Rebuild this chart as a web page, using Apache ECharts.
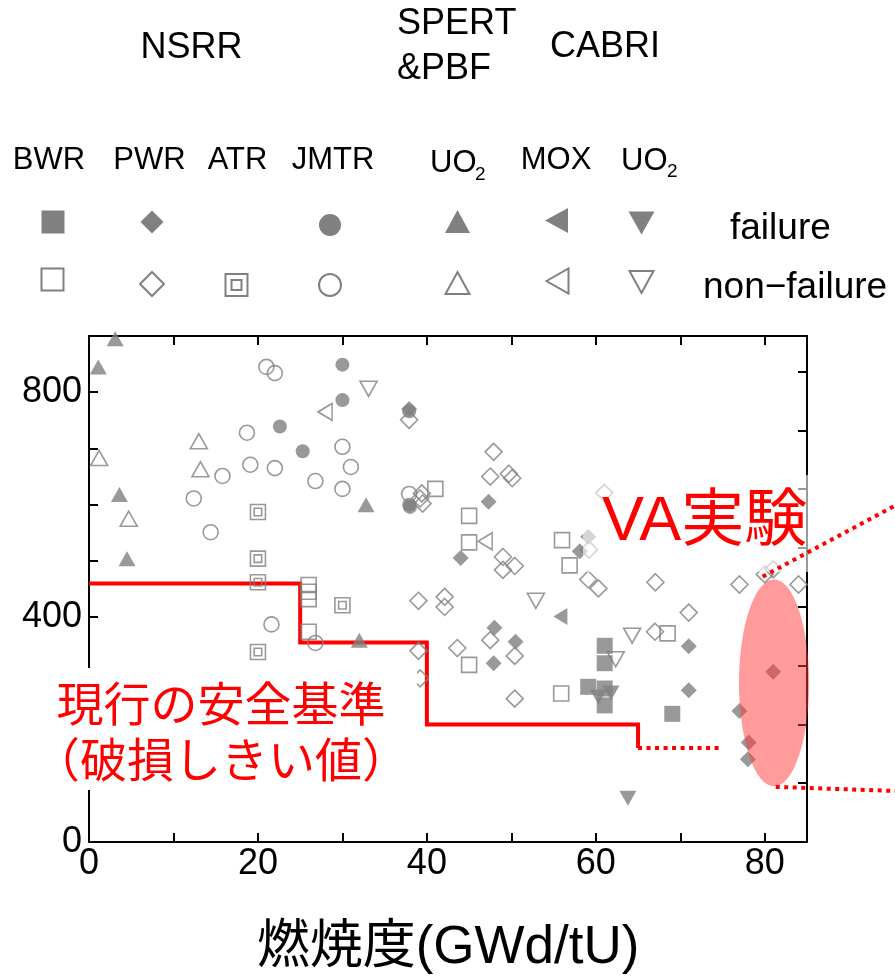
<!DOCTYPE html>
<html>
<head>
<meta charset="utf-8">
<script src="https://cdn.jsdelivr.net/npm/echarts@6/dist/echarts.min.js"></script>
<style>
html, body { margin: 0; padding: 0; background: #fff; }
#chart { width: 895px; height: 980px; }
</style>
</head>
<body>
<div id="chart"></div>
<script>
// RIA test results: burnup (GWd/tU) vs. peak fuel enthalpy (J/g)

// NSRR BWR
const bwrFail = [[61.05,349],[61.05,318],[59.1,276],[61.05,273],[61.05,243],[69.05,228]];
const bwrNonFail = [[26.0,457],[26.0,445],[26.0,432],[26.0,374],[41.0,628],[45.0,580],[45.0,533],
  [56.0,537],[56.9,492],[45.0,315],[55.9,264],[68.5,371]];
// NSRR PWR
const pwrFail = [[37.9,770],[47.3,605],[44.0,505],[48.0,381],[50.5,356],[47.9,318],[58.1,517],
  [59.1,543],[71.0,348],[71.0,270],[77.0,233],[78.1,177],[78.0,147],[81.0,303]];
const pwrNonFail = [[37.9,751],[47.9,694],[47.5,650],[49.7,655],[50.1,647],[39.4,620],[39.2,611],
  [39.5,602],[49.0,507],[49.0,484],[50.4,491],[59.2,520],[59.1,467],[60.3,451],[61.0,621],
  [39.0,429],[42.1,436],[42.1,418],[47.5,359],[39.0,340],[43.6,345],[50.4,331],[39.2,291],
  [50.4,255],[67.0,374],[67.05,462],[71.0,408],[77.0,458],[80.0,476],[81.0,485],[84.0,458]];
// NSRR ATR
const atrNonFail = [[20.0,587],[20.0,504],[20.0,462],[30.0,421],[20.0,338]];
// NSRR JMTR
const jmtrFail = [[30.0,849],[30.0,786],[22.6,739],[25.3,695],[37.9,766],[37.9,600],[38.0,596]];
const jmtrNonFail = [[21.0,845],[22.0,834],[18.7,728],[30.0,703],[19.1,671],[22.0,665],[15.8,651],
  [31.0,667],[26.8,642],[30.0,628],[12.4,611],[14.4,551],[21.6,387],[26.8,354],[37.9,619]];
// SPERT & PBF, UO2
const spertFail = [[1.1,845],[3.1,895],[3.6,618],[4.5,504],[32.8,600],[32.0,359]];
const spertNonFail = [[1.2,683],[4.7,575],[13.0,713],[13.2,663]];
// CABRI MOX
const cabriMoxFail = [[55.8,401]];
const cabriMoxNonFail = [[27.95,765],[46.9,535]];
// CABRI UO2
const cabriUo2Fail = [[60.3,258],[61.8,265],[63.8,78]];
const cabriUo2NonFail = [[33.1,806],[52.9,429],[62.35,325],[64.3,367]];

// PCMI failure threshold (current safety criterion)
const criterionBurnup = [0, 25, 25, 40, 40, 65, 65];
const criterionEnthalpy = [460, 460, 355, 355, 209, 209, 167];
const extensionBurnup = [65, 75];
const extensionEnthalpy = [167, 167];

// VA test region (centre and half-widths in data units) and its call-out lines [x1, y1, x2, y2]
const vaCenter = [81.1, 283];
const vaHalfSize = [4.15, 184];
const calloutUpper = [79.75, 472, 97, 611];
const calloutLower = [81.3, 98, 97, 90];

// Axis tick labels
const xTickLabels = [0, 20, 40, 60, 80];
const yTickLabels = [0, 400, 800];
const J_PER_CAL = 4.184;

const GRAY = '#808080';
const RED = '#ff0000';
const FONT = '"Liberation Sans", Arial, "Noto Sans CJK JP", sans-serif';
const JFONT = '"Noto Sans CJK JP", "Liberation Sans", sans-serif';

const zip = (xs, ys) => xs.map((x, i) => [x, ys[i]]);

function scatter(name, data, symbol, filled, size, rotate) {
  return {
    type: 'scatter', name, data, symbol, symbolSize: size, symbolRotate: rotate || 0,
    silent: true, z: 3,
    itemStyle: filled
      ? { color: GRAY, borderWidth: 0 }
      : { color: 'rgba(0,0,0,0)', borderColor: GRAY, borderWidth: 1.6 }
  };
}

const ATR_PATH = 'path://M0,0L20,0L20,20L0,20Z M5,5L15,5L15,15L5,15Z';

const series = [
  {
    type: 'line', name: 'criterion', data: zip(criterionBurnup, criterionEnthalpy),
    symbol: 'none', silent: true, z: 2,
    lineStyle: { color: RED, width: 4, cap: 'butt', join: 'miter' }
  },
  {
    type: 'line', name: 'criterion-ext', data: zip(extensionBurnup, extensionEnthalpy),
    symbol: 'none', silent: true, z: 2,
    lineStyle: { color: RED, width: 4, type: [4, 4.5], cap: 'butt' }
  },
  scatter('BWR non-failure', bwrNonFail, 'rect', false, 15),
  scatter('PWR non-failure', pwrNonFail, 'diamond', false, 17),
  scatter('ATR non-failure', atrNonFail, ATR_PATH, false, 15),
  scatter('JMTR non-failure', jmtrNonFail, 'circle', false, 15),
  scatter('SPERT non-failure', spertNonFail, 'triangle', false, [17, 15]),
  scatter('CABRI MOX non-failure', cabriMoxNonFail, 'triangle', false, [17, 14], 90),
  scatter('CABRI UO2 non-failure', cabriUo2NonFail, 'triangle', false, [17, 15], 180),
  scatter('BWR failure', bwrFail, 'rect', true, 16),
  scatter('PWR failure', pwrFail, 'diamond', true, 16),
  scatter('JMTR failure', jmtrFail, 'circle', true, 14),
  scatter('SPERT failure', spertFail, 'triangle', true, [17, 15]),
  scatter('CABRI MOX failure', cabriMoxFail, 'triangle', true, [17, 14], 90),
  scatter('CABRI UO2 failure', cabriUo2Fail, 'triangle', true, [17, 15], 180),
  {
    type: 'custom', name: 'VA region', coordinateSystem: 'cartesian2d',
    data: [[vaCenter[0], vaCenter[1], vaHalfSize[0], vaHalfSize[1]]],
    encode: { x: 0, y: 1 }, clip: false, silent: true, z: 40,
    renderItem: function (params, api) {
      const c = api.coord([api.value(0), api.value(1)]);
      const s = api.size([api.value(2), api.value(3)]);
      return {
        type: 'circle', x: c[0], y: c[1], scaleX: s[0] / s[1], scaleY: 1,
        shape: { cx: 0, cy: 0, r: s[1] },
        style: { fill: 'rgba(255,55,55,0.5)' }
      };
    }
  },
  {
    type: 'custom', name: 'VA callouts', coordinateSystem: 'cartesian2d',
    data: [calloutUpper, calloutLower],
    encode: { x: 0, y: 1 }, clip: false, silent: true, z: 60,
    renderItem: function (params, api) {
      const a = api.coord([api.value(0), api.value(1)]);
      const b = api.coord([api.value(2), api.value(3)]);
      return {
        type: 'line',
        shape: { x1: a[0], y1: a[1], x2: b[0], y2: b[1] },
        style: { stroke: RED, lineWidth: 4, lineDash: [4, 4.5], lineCap: 'butt', fill: null }
      };
    }
  }
];

// Legend keys (drawn as plain shapes above the plot)
function key(kind, filled, cx, cy, w, h) {
  const style = filled ? { fill: GRAY } : { fill: 'none', stroke: GRAY, lineWidth: 2 };
  const base = { silent: true, z: 100, style };
  if (kind === 'rect') return Object.assign(base, { type: 'rect', shape: { x: cx - w / 2, y: cy - h / 2, width: w, height: h } });
  if (kind === 'circle') return Object.assign(base, { type: 'circle', shape: { cx, cy, r: w / 2 } });
  let pts;
  if (kind === 'diamond') pts = [[cx, cy - h / 2], [cx + w / 2, cy], [cx, cy + h / 2], [cx - w / 2, cy]];
  if (kind === 'up') pts = [[cx, cy - h / 2], [cx + w / 2, cy + h / 2], [cx - w / 2, cy + h / 2]];
  if (kind === 'down') pts = [[cx - w / 2, cy - h / 2], [cx + w / 2, cy - h / 2], [cx, cy + h / 2]];
  if (kind === 'left') pts = [[cx - w / 2, cy], [cx + w / 2, cy - h / 2], [cx + w / 2, cy + h / 2]];
  return Object.assign(base, { type: 'polygon', shape: { points: pts } });
}

function label(text, x, y, size, align, color, family) {
  return {
    type: 'text', silent: true, z: color === RED ? 70 : 100,
    style: {
      text, x, y, fontSize: size, fontFamily: family || FONT, fill: color || '#000',
      align: align || 'left', verticalAlign: 'middle',
      textAlign: align || 'left', textVerticalAlign: 'middle'
    }
  };
}

const graphics = [
  label('NSRR', 191.5, 48, 36, 'center'),
  label('SPERT', 397, 24, 36, 'left'),
  label('&PBF', 397, 69, 36, 'left'),
  label('CABRI', 605, 47, 36, 'center'),
  label('BWR', 49, 160, 31, 'center'),
  label('PWR', 149.5, 160, 31, 'center'),
  label('ATR', 237.5, 160, 31, 'center'),
  label('JMTR', 333, 160, 31, 'center'),
  label('UO', 430, 163, 31, 'left'),
  label('2', 475, 175, 19, 'left'),
  label('MOX', 556, 160, 31, 'center'),
  label('UO', 621, 161, 31, 'left'),
  label('2', 667, 172, 19, 'left'),
  label('failure', 730, 229, 37, 'left'),
  label('non\u2212failure', 703, 288, 37, 'left'),

  key('rect', true, 53, 222, 23, 23),
  key('rect', false, 52.5, 279.5, 22, 22),
  key('diamond', true, 152, 222, 23, 23),
  key('diamond', false, 152, 284, 24, 24),
  key('rect', false, 236.5, 285, 22, 22),
  key('rect', false, 236.5, 285, 10, 10),
  key('circle', true, 330, 225, 22, 22),
  key('circle', false, 330, 285, 22, 22),
  key('up', true, 457.5, 221.5, 25, 23),
  key('up', false, 457.5, 283, 24, 22),
  key('left', true, 556.5, 220.5, 23, 25),
  key('left', false, 557.5, 281, 22, 25),
  key('down', true, 641.5, 223, 26, 23),
  key('down', false, 641.5, 282, 24, 22),

  // backing panels of the two annotations
  { type: 'rect', silent: true, z: 50, shape: { x: 40, y: 668, width: 377, height: 122 }, style: { fill: '#fff' } },
  { type: 'rect', silent: true, z: 50, shape: { x: 583, y: 475, width: 232, height: 97 }, style: { fill: 'rgba(255,255,255,0.6)' } },

  label('現行の安全基準', 221, 703, 47, 'center', RED, JFONT),
  label('（破損しきい値）', 221, 759, 47, 'center', RED, JFONT),
  label('VA実験', 602, 523, 63, 'left', RED, FONT)
];

const axisLine = { show: true, onZero: false, lineStyle: { color: '#000', width: 2 } };
const axisTick = { show: true, inside: true, length: 9, lineStyle: { color: '#000', width: 2 } };

const option = {
  animation: false,
  backgroundColor: '#fff',
  grid: { left: 89, right: 88, top: 336, bottom: 138, containLabel: false, outerBoundsMode: 'none' },
  xAxis: [
    {
      type: 'value', min: 0, max: 85, interval: 10, position: 'bottom',
      axisLine, axisTick, splitLine: { show: false },
      axisLabel: {
        fontSize: 36, fontFamily: FONT, color: '#000', margin: 4,
        formatter: v => (xTickLabels.includes(v) ? String(v) : '')
      },
      name: '燃焼度(GWd/tU)', nameLocation: 'middle', nameGap: 80,
      nameTextStyle: { fontSize: 53, fontFamily: FONT, color: '#000' }
    },
    {
      type: 'value', min: 0, max: 85, interval: 10, position: 'top',
      axisLine, axisTick, splitLine: { show: false }, axisLabel: { show: false }
    }
  ],
  yAxis: [
    {
      type: 'value', min: 0, max: 900, interval: 100, position: 'left',
      axisLine, axisTick, splitLine: { show: false },
      axisLabel: {
        fontSize: 36, fontFamily: FONT, color: '#000', margin: 7,
        formatter: v => (yTickLabels.includes(v) ? String(v) : '')
      }
    },
    {
      // same scale expressed in cal/g
      type: 'value', min: 0, max: 900 / J_PER_CAL, interval: 25, position: 'right',
      axisLine, axisTick, splitLine: { show: false }, axisLabel: { show: false }
    }
  ],
  series,
  graphic: { elements: graphics }
};

const chart = echarts.init(document.getElementById('chart'), null, { renderer: 'canvas' });
chart.setOption(option);
</script>
</body>
</html>
